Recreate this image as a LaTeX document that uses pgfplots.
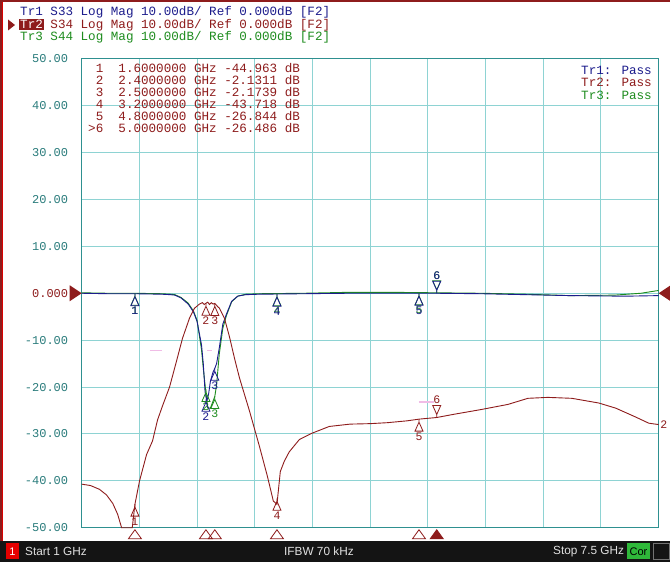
\documentclass[border=0pt]{standalone}
\usepackage{pgfplots}
\pgfplotsset{compat=1.18}
\usepackage{fontspec}
\setmainfont{Liberation Sans}
\newfontfamily\mono{Liberation Mono}
\definecolor{tone}{HTML}{1C1C8C}
\definecolor{ttwo}{HTML}{8E1C1C}
\definecolor{tthree}{HTML}{1E8C1E}
\definecolor{gridc}{HTML}{8ED3D3}
\definecolor{framec}{HTML}{2E9090}
\definecolor{tickc}{HTML}{2A7C7C}
\definecolor{limc}{HTML}{F0BCE6}
\definecolor{barc}{HTML}{141414}
\definecolor{cor}{HTML}{2FB83A}

\pgfdeclareplotmark{mkup}{%
  \pgfpathmoveto{\pgfqpoint{0pt}{0pt}}\pgfpathlineto{\pgfqpoint{0pt}{-3pt}}%
  \pgfpathlineto{\pgfqpoint{-4pt}{-12pt}}\pgfpathlineto{\pgfqpoint{4pt}{-12pt}}%
  \pgfpathlineto{\pgfqpoint{0pt}{-3pt}}\pgfusepathqstroke}
\pgfdeclareplotmark{mkdn}{%
  \pgfpathmoveto{\pgfqpoint{0pt}{0pt}}\pgfpathlineto{\pgfqpoint{0pt}{3pt}}%
  \pgfpathlineto{\pgfqpoint{-4pt}{12pt}}\pgfpathlineto{\pgfqpoint{4pt}{12pt}}%
  \pgfpathlineto{\pgfqpoint{0pt}{3pt}}\pgfusepathqstroke}
\pgfdeclareplotmark{mkbot}{%
  \pgfpathmoveto{\pgfqpoint{0pt}{-2pt}}\pgfpathlineto{\pgfqpoint{-6.5pt}{-11pt}}%
  \pgfpathlineto{\pgfqpoint{6.5pt}{-11pt}}\pgfpathclose\pgfusepathqstroke}
\pgfdeclareplotmark{mkbotf}{%
  \pgfpathmoveto{\pgfqpoint{0pt}{-2pt}}\pgfpathlineto{\pgfqpoint{-6.5pt}{-11pt}}%
  \pgfpathlineto{\pgfqpoint{6.5pt}{-11pt}}\pgfpathclose\pgfusepathqfillstroke}
\pgfdeclareplotmark{refl}{%
  \pgfpathmoveto{\pgfqpoint{0pt}{0pt}}\pgfpathlineto{\pgfqpoint{-12pt}{8pt}}%
  \pgfpathlineto{\pgfqpoint{-12pt}{-8pt}}\pgfpathclose\pgfusepathqfill}
\pgfdeclareplotmark{refr}{%
  \pgfpathmoveto{\pgfqpoint{0pt}{0pt}}\pgfpathlineto{\pgfqpoint{12pt}{8pt}}%
  \pgfpathlineto{\pgfqpoint{12pt}{-8pt}}\pgfpathclose\pgfusepathqfill}

\tikzset{mnum/.style={font=\mono\fontsize{11.5}{11.5}\selectfont, inner sep=0pt}}
\pgfplotsset{
  upmk/.style={#1, line width=0.8pt, only marks, mark=mkup, point meta=explicit symbolic,
    nodes near coords, nodes near coords align={anchor=north},
    every node near coord/.append style={mnum, text=#1, yshift=-13pt}},
  dnmk/.style={#1, line width=0.8pt, only marks, mark=mkdn, point meta=explicit symbolic,
    nodes near coords, nodes near coords align={anchor=south},
    every node near coord/.append style={mnum, text=#1, yshift=13pt}},
}

\begin{document}
\begin{tikzpicture}[x=1pt,y=1pt]
\fill[white] (0,0) rectangle (670,562);
% frame borders
\fill[ttwo] (0,21) rectangle (1.6,562);
\fill[red!85!black] (1.6,21) rectangle (3.4,562);
\fill[ttwo] (0,560.3) rectangle (670,562);
% status bar
\fill[barc] (0,0) rectangle (670,21);
\fill[red!90!black] (6,2.5) rectangle (19,19);
\node[text=white, font=\fontsize{11}{11}\selectfont, inner sep=0] at (12.5,10.5) {1};
\node[anchor=west, text=black!12, font=\fontsize{11.8}{12}\selectfont, inner sep=0] at (25,10.5) {Start 1 GHz};
\node[anchor=west, text=black!12, font=\fontsize{11.8}{12}\selectfont, inner sep=0] at (284,10.5) {IFBW 70 kHz};
\node[anchor=west, text=black!12, font=\fontsize{11.8}{12}\selectfont, inner sep=0] at (553,10.5) {Stop 7.5 GHz};
\fill[cor] (627,2.5) rectangle (650,19);
\node[text=black, font=\fontsize{11}{11}\selectfont, inner sep=0] at (638.5,10.5) {Cor};
\draw[black!55, line width=0.8pt] (653,2.5) rectangle (669,19);
% header
\node[anchor=west, text=tone, font=\mono\fontsize{12.6}{12.6}\selectfont, inner sep=0] at (20,549.5) {Tr1 S33 Log Mag 10.00dB/ Ref 0.000dB [F2]};
\fill[ttwo] (19,531.5) rectangle (43.7,542.5);
\fill[ttwo] (8,542.5) -- (15,537) -- (8,531.5) -- cycle;
\node[anchor=west, text=ttwo, font=\mono\fontsize{12.6}{12.6}\selectfont, inner sep=0] at (20,537) {\textcolor{white}{Tr2} S34 Log Mag 10.00dB/ Ref 0.000dB [F2]};
\node[anchor=west, text=tthree, font=\mono\fontsize{12.6}{12.6}\selectfont, inner sep=0] at (20,524.5) {Tr3 S44 Log Mag 10.00dB/ Ref 0.000dB [F2]};

\begin{axis}[at={(92,73)}, anchor=south west, scale only axis,
  width=577pt, height=469pt,
  xmin=1, xmax=7.5, ymin=-50, ymax=50,
  xtick={1,1.65,2.3,2.95,3.6,4.25,4.9,5.55,6.2,6.85,7.5}, xticklabels={},
  ytick={-50,-40,-30,-20,-10,0,10,20,30,40,50},
  yticklabels={-50.00,-40.00,-30.00,-20.00,-10.00,{\textcolor{ttwo}{0.000}},10.00,20.00,30.00,40.00,50.00},
  grid=major, major grid style={gridc, line width=1pt},
  axis line style={framec, line width=1pt},
  major tick length=0pt,
  yticklabel style={font=\mono\fontsize{12}{12}\selectfont, text=tickc, anchor=east, xshift=-10pt},
  clip=false]

% limit line fragments
\addplot[limc, line width=1.2pt, mark=none] coordinates {(1.765,-12.15) (1.90,-12.15)};
\addplot[limc, line width=1.2pt, mark=none] coordinates {(2.417,-12.15) (2.473,-12.15)};
\addplot[limc, line width=1.2pt, mark=none] coordinates {(4.80,-23.2) (4.97,-23.2)};

% Tr3 S44
\addplot[tthree, line width=0.9pt, mark=none] coordinates {
(1.0,0.1) (1.3,0.0) (1.6,0.0) (1.9,-0.1) (2.0,-0.2) (2.05,-0.3) (2.12,-0.9) (2.2,-2.1)
(2.26,-3.8) (2.3,-5.8) (2.35,-12) (2.37,-16) (2.39,-19.5) (2.42,-24.5) (2.45,-24.5)
(2.48,-23) (2.5,-22) (2.52,-19.5) (2.55,-13) (2.59,-7.5) (2.63,-4.8) (2.69,-1.8)
(2.76,-0.6) (2.85,-0.2) (3.0,-0.1) (3.5,0.0) (4.0,0.2) (4.5,0.2) (5.0,0.1) (5.5,0.0)
(6.0,-0.2) (6.5,-0.5) (7.0,-0.4) (7.3,0.0) (7.5,0.6)};
% Tr1 S33
\addplot[tone, line width=0.9pt, mark=none] coordinates {
(1.0,0.0) (1.3,-0.1) (1.6,-0.1) (1.9,-0.2) (2.0,-0.3) (2.05,-0.4) (2.12,-1.0) (2.2,-2.3)
(2.26,-4.0) (2.3,-6.0) (2.35,-11) (2.37,-15) (2.39,-21) (2.41,-23) (2.43,-21.5)
(2.45,-18.8) (2.48,-16.8) (2.5,-16) (2.52,-15) (2.55,-11.7) (2.59,-6.6) (2.63,-4.5)
(2.69,-1.7) (2.76,-0.6) (2.85,-0.3) (3.0,-0.2) (3.5,-0.1) (4.0,0.0) (4.5,0.0) (5.0,0.0)
(5.5,-0.1) (6.0,-0.3) (6.5,-0.5) (7.0,-0.6) (7.2,-0.6) (7.5,-0.5)};
% Tr2 S34
\addplot[ttwo, line width=0.9pt, mark=none] coordinates {
(1.0,-40.7) (1.1,-41.0) (1.2,-41.8) (1.28,-43.0) (1.35,-44.8) (1.405,-47.1) (1.45,-50)
(1.57,-50) (1.6,-45) (1.652,-40) (1.731,-34.4) (1.798,-31.5) (1.855,-27) (1.911,-24)
(1.99,-20) (2.068,-14.5) (2.136,-9.6) (2.215,-5.3) (2.271,-3.2) (2.327,-2.3) (2.36,-2.0)
(2.38,-2.4) (2.4,-2.13) (2.42,-1.9) (2.44,-2.4) (2.46,-2.0) (2.48,-2.3) (2.5,-2.17)
(2.53,-2.8) (2.552,-3.2) (2.608,-5.3) (2.664,-9.2) (2.721,-13.8) (2.777,-18) (2.889,-25)
(3.002,-32.6) (3.092,-39) (3.159,-44.3) (3.2,-45) (3.238,-38) (3.283,-35.8) (3.339,-33.8)
(3.452,-31.2) (3.587,-29.9) (3.789,-28.4) (4.025,-27.9) (4.25,-27.8) (4.441,-27.6)
(4.666,-27.2) (4.8,-26.84) (5.0,-26.49) (5.195,-25.8) (5.498,-24.8) (5.802,-23.7)
(6.027,-22.4) (6.252,-22.2) (6.522,-22.4) (6.825,-23.4) (7.017,-24.5) (7.242,-26.4)
(7.388,-27.7) (7.5,-28.0)};

% markers Tr3
\addplot[upmk=tthree] coordinates {(1.6,0.0)[1] (2.4,-20.5)[2] (2.5,-22)[3] (3.2,-0.1)[4] (4.8,0.1)[5]};
\addplot[dnmk=tthree] coordinates {(5.0,0.1)[6]};
% markers Tr1
\addplot[upmk=tone] coordinates {(1.6,-0.1)[1] (2.4,-22.6)[2] (2.5,-16)[3] (3.2,-0.2)[4] (4.8,0.0)[5]};
\addplot[dnmk=tone] coordinates {(5.0,0.0)[6]};
% markers Tr2
\addplot[upmk=ttwo] coordinates {(1.6,-44.96)[1] (2.4,-2.13)[2] (2.5,-2.17)[3] (3.2,-43.72)[4] (4.8,-26.84)[5]};
\addplot[dnmk=ttwo] coordinates {(5.0,-26.49)[6]};

% bottom marker indicators
\addplot[ttwo, line width=0.8pt, only marks, mark=mkbot] coordinates {(1.6,-50) (2.4,-50) (2.5,-50) (3.2,-50) (4.8,-50)};
\addplot[ttwo, fill=ttwo, line width=0.8pt, only marks, mark=mkbotf] coordinates {(5.0,-50)};
% reference level arrows
\addplot[ttwo, only marks, mark=refl] coordinates {(1,0)};
\addplot[ttwo, only marks, mark=refr] coordinates {(7.5,0)};
% trace end label
\addplot[only marks, mark=none, point meta=explicit symbolic, nodes near coords,
  nodes near coords align={anchor=west},
  every node near coord/.append style={mnum, text=ttwo, xshift=1.5pt}] coordinates {(7.5,-28.0)[2]};
\end{axis}

% marker table
\begin{scope}[every node/.style={anchor=west, text=ttwo, font=\mono\fontsize{12.6}{12.6}\selectfont, inner sep=0}]
\node at (88,494) {~1~~1.6000000~GHz~-44.963~dB};
\node at (88,482) {~2~~2.4000000~GHz~-2.1311~dB};
\node at (88,470) {~3~~2.5000000~GHz~-2.1739~dB};
\node at (88,458) {~4~~3.2000000~GHz~-43.718~dB};
\node at (88,446) {~5~~4.8000000~GHz~-26.844~dB};
\node at (88,434) {>6~~5.0000000~GHz~-26.486~dB};
\end{scope}
% pass legend
\begin{scope}[every node/.style={anchor=east, font=\mono\fontsize{12.6}{12.6}\selectfont, inner sep=0}]
\node[text=tone] at (652,492) {Tr1: Pass};
\node[text=ttwo] at (652,479.5) {Tr2: Pass};
\node[text=tthree] at (652,467) {Tr3: Pass};
\end{scope}
\pgfresetboundingbox
\useasboundingbox (0,0) rectangle (670,562);
\end{tikzpicture}
\end{document}
